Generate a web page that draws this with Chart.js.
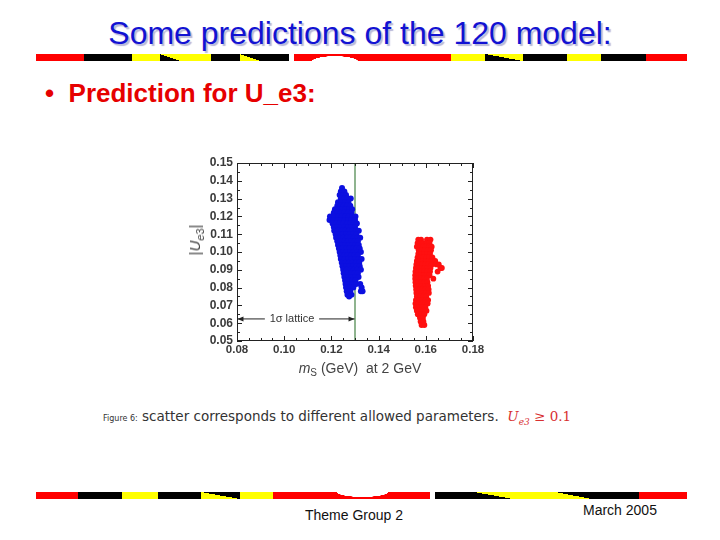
<!DOCTYPE html>
<html><head><meta charset="utf-8">
<script src="https://cdn.jsdelivr.net/npm/chart.js@4.4.1/dist/chart.umd.min.js"></script>
<style>
html,body{margin:0;padding:0;background:#fff;}
#page{position:relative;width:720px;height:540px;overflow:hidden;font-family:Arial,"Liberation Sans",sans-serif;}
.abs{position:absolute;}
.seg{position:absolute;height:7px;}
#title{left:0;width:720px;top:15px;text-align:center;font-size:32px;color:#1212d2;text-shadow:2px 2px 1px #b8b8d8;white-space:nowrap;}
#bullet{left:45px;top:78px;font-size:26px;font-weight:bold;color:#e60000;white-space:nowrap;}
#chartbox{left:160px;top:150px;width:330px;height:240px;}
#ytitle{left:196px;top:240px;font-size:15px;color:#444;transform:translate(-50%,-50%) rotate(-90deg);white-space:nowrap;}
#xtitle{left:360px;top:369px;font-size:14px;color:#444;transform:translate(-50%,-50%);white-space:nowrap;}
#caption{left:103px;top:408px;font-size:13.5px;color:#333;white-space:nowrap;font-family:"DejaVu Sans","Open Sans",sans-serif;}
#foot1{left:305px;top:507px;font-size:14px;color:#111;}
#foot2{left:583px;top:502px;font-size:14px;color:#111;}
</style></head>
<body><div id="page">
<div id="title" class="abs">Some predictions of the 120 model:</div>
<div id="topbar"></div>
<div id="bullet" class="abs">•&nbsp; Prediction for U_e3:</div>
<div id="chartbox" class="abs"><canvas id="c" width="330" height="240"></canvas></div>
<div id="ytitle" class="abs">|<i>U</i><sub style="font-size:11px"><i>e</i>3</sub>|</div>
<div id="xtitle" class="abs"><i>m</i><sub style="font-size:10px">S</sub> (GeV)&nbsp; at 2 GeV</div>
<div id="caption" class="abs"><span style="font-size:8px">Figure 6:</span> scatter corresponds to different allowed parameters. &nbsp;<span style="color:#d83030;font-family:'DejaVu Serif','Liberation Serif',serif;font-style:italic">U<sub style="font-size:9px">e3</sub></span><span style="color:#d83030;font-family:'DejaVu Serif','Liberation Serif',serif"> ≥ 0.1</span></div>
<div id="botbar"></div>
<div id="foot1" class="abs">Theme Group 2</div>
<div id="foot2" class="abs">March 2005</div>
</div>
<script>
// ---- data ----
const xTicks = [0.08, 0.10, 0.12, 0.14, 0.16, 0.18];
const yTicks = [0.05, 0.06, 0.07, 0.08, 0.09, 0.10, 0.11, 0.12, 0.13, 0.14, 0.15];
const latticeX = 0.13;
const blueRows = [
 [0.136,[0.1245]],
 [0.134,[0.124,0.1255]],
 [0.132,[0.1235,0.125,0.1262]],
 [0.130,[0.124,0.1255,0.1268,0.1282]],
 [0.128,[0.1228,0.1242,0.1258,0.1272]],
 [0.126,[0.1225,0.1238,0.1252,0.1266,0.128]],
 [0.124,[0.1215,0.123,0.1245,0.126,0.1275,0.1288]],
 [0.122,[0.121,0.1225,0.124,0.1255,0.127,0.1285]],
 [0.120,[0.1194,0.1212,0.1228,0.1244,0.126,0.1274,0.1289,0.1302]],
 [0.118,[0.1192,0.121,0.1226,0.1241,0.1256,0.1271,0.1285,0.13]],
 [0.116,[0.1205,0.122,0.1235,0.125,0.1266,0.128,0.1295,0.1308]],
 [0.114,[0.121,0.1224,0.124,0.1255,0.127,0.1284,0.13]],
 [0.112,[0.1212,0.1228,0.1243,0.1258,0.1274,0.1289,0.1304,0.1316]],
 [0.110,[0.1218,0.1232,0.1247,0.1262,0.1278,0.1292,0.1306]],
 [0.108,[0.122,0.1236,0.1251,0.1266,0.128,0.1295,0.131,0.1322]],
 [0.106,[0.1225,0.124,0.1255,0.127,0.1284,0.1298,0.1312]],
 [0.104,[0.1228,0.1243,0.1258,0.1273,0.1288,0.1302,0.1316]],
 [0.102,[0.1232,0.1247,0.1262,0.1277,0.1292,0.1306,0.132]],
 [0.100,[0.1235,0.125,0.1265,0.128,0.1295,0.131,0.1325]],
 [0.098,[0.1238,0.1253,0.1268,0.1283,0.1298,0.1312]],
 [0.096,[0.124,0.1256,0.1271,0.1286,0.13,0.1315,0.1328]],
 [0.094,[0.1244,0.1259,0.1274,0.1289,0.1304,0.1318]],
 [0.092,[0.1247,0.1262,0.1277,0.1292,0.1306,0.132]],
 [0.090,[0.125,0.1265,0.128,0.1295,0.131,0.1325]],
 [0.088,[0.1252,0.1268,0.1283,0.1298,0.1312]],
 [0.086,[0.1255,0.127,0.1285,0.13,0.1315]],
 [0.084,[0.1258,0.1273,0.1288,0.1302]],
 [0.082,[0.126,0.1275,0.129,0.1305,0.1322]],
 [0.080,[0.1262,0.1278,0.1293,0.1328]],
 [0.078,[0.1265,0.128,0.1325,0.1332]],
 [0.076,[0.1268,0.1285]],
 [0.075,[0.1275]]
];
const redRows = [
 [0.107,[0.1568,0.158,0.1605,0.162]],
 [0.105,[0.1565,0.1578,0.159,0.1603,0.1616]],
 [0.103,[0.1562,0.1575,0.1588,0.16,0.1612,0.1625]],
 [0.101,[0.157,0.1583,0.1596,0.1608,0.1622]],
 [0.099,[0.1568,0.158,0.1593,0.1605,0.1618]],
 [0.097,[0.1565,0.1578,0.159,0.1603,0.1615,0.1628]],
 [0.095,[0.1562,0.1575,0.1588,0.16,0.1612,0.1625,0.164]],
 [0.093,[0.156,0.1572,0.1585,0.1598,0.161,0.1625,0.1645,0.1655]],
 [0.091,[0.1558,0.157,0.1583,0.1595,0.1608,0.162,0.1662,0.1668]],
 [0.089,[0.1556,0.1568,0.158,0.1593,0.1605,0.1618,0.165]],
 [0.087,[0.1555,0.1567,0.158,0.1592,0.1604,0.1616]],
 [0.085,[0.1555,0.1567,0.158,0.1592,0.1605,0.1632]],
 [0.083,[0.1556,0.1568,0.1581,0.1594,0.1607]],
 [0.081,[0.1557,0.157,0.1583,0.1596,0.161]],
 [0.079,[0.1559,0.1572,0.1585,0.1598,0.1612]],
 [0.077,[0.156,0.1573,0.1586,0.16,0.1613]],
 [0.075,[0.1562,0.1575,0.1588,0.1602]],
 [0.073,[0.1558,0.1572,0.1585,0.1598,0.161]],
 [0.071,[0.1556,0.157,0.1583,0.1596,0.1608]],
 [0.069,[0.1558,0.1572,0.1585,0.1598]],
 [0.067,[0.1562,0.1576,0.159,0.1603]],
 [0.065,[0.1566,0.158,0.1594]],
 [0.063,[0.1575,0.1588]],
 [0.061,[0.1578,0.159]],
 [0.059,[0.1582,0.1594]]
];
const toPoints = rows => rows.flatMap(([y, xs]) => xs.map(x => ({x, y})));

// ---- decorative bars ----
const R='#ff0000',K='#000000',Y='#ffff00';
function bar(id, top, segs){
  const host=document.getElementById(id);
  segs.forEach(s=>{
    const d=document.createElement('div');
    d.className='seg';
    d.style.left=s[0]+'px'; d.style.width=(s[1]-s[0])+'px'; d.style.top=top+'px';
    d.style.background=s[2];
    host.appendChild(d);
  });
}
bar('topbar',54,[
 [36,84,R],[84,132,K],[132,160,Y],
 [160,180,'linear-gradient(to bottom left,'+Y+' 50%,'+K+' 50%)'],
 [180,211,Y],[211,240,K],
 [240,260,'linear-gradient(to bottom left,'+K+' 50%,'+Y+' 50%)'],
 [260,289,K],
 [294,360,'radial-gradient(ellipse 24px 6px at 62% 115%, #fff 97%, '+R+' 100%)'],
 [360,451,R],[451,485,Y],
 [485,523,'linear-gradient(to bottom left,'+Y+' 50%,'+K+' 50%)'],
 [523,567,K],[567,601,Y],[601,646,K],[646,687,R]
]);
bar('botbar',492,[
 [36,78,R],[78,122,K],[122,158,Y],[158,201,K],
 [201,240,'linear-gradient(to top right,'+Y+' 50%,'+K+' 50%)'],
 [240,273,Y],
 [273,430,'radial-gradient(ellipse 26px 5px at 57% 0%, #fff 97%, '+R+' 100%)'],
 [435,474,K],
 [474,513,'linear-gradient(to top right,'+K+' 50%,'+Y+' 50%)'],
 [513,555,Y],
 [555,592,'linear-gradient(to top right,'+Y+' 50%,'+K+' 50%)'],
 [592,639,K],[639,687,R]
]);

// ---- chart ----
const framePlugin = {
  id:'frame',
  afterDatasetsDraw(chart){
    const {ctx, chartArea:a, scales:{x, y}} = chart;
    ctx.save();
    ctx.strokeStyle='#222'; ctx.lineWidth=1;
    ctx.strokeRect(a.left+0.5, a.top+0.5, a.right-a.left-1, a.bottom-a.top-1);
    ctx.beginPath();
    for(let i=0;i<=20;i++){
      const v=0.08+i*0.005;
      const p=Math.round(x.getPixelForValue(v))+0.5;
      const L = (i%4===0)?5:3;
      ctx.moveTo(p,a.bottom); ctx.lineTo(p,a.bottom-L);
      ctx.moveTo(p,a.top); ctx.lineTo(p,a.top+L);
    }
    for(let i=0;i<=20;i++){
      const v=0.05+i*0.005;
      const p=Math.round(y.getPixelForValue(v))+0.5;
      const L = (i%2===0)?5:3;
      ctx.moveTo(a.left,p); ctx.lineTo(a.left+L,p);
      ctx.moveTo(a.right,p); ctx.lineTo(a.right-L,p);
    }
    ctx.stroke();
    // 1 sigma lattice annotation
    const yy = y.getPixelForValue(0.0624);
    const x0 = x.getPixelForValue(0.0802), x1 = x.getPixelForValue(0.0918);
    const x2 = x.getPixelForValue(0.1148), x3 = x.getPixelForValue(0.1298);
    ctx.strokeStyle='#222'; ctx.fillStyle='#222'; ctx.lineWidth=1;
    ctx.beginPath();
    ctx.moveTo(x0,yy); ctx.lineTo(x1,yy);
    ctx.moveTo(x2,yy); ctx.lineTo(x3,yy);
    ctx.stroke();
    ctx.beginPath();
    ctx.moveTo(x0,yy); ctx.lineTo(x0+6,yy-2.5); ctx.lineTo(x0+6,yy+2.5); ctx.closePath();
    ctx.moveTo(x3,yy); ctx.lineTo(x3-6,yy-2.5); ctx.lineTo(x3-6,yy+2.5); ctx.closePath();
    ctx.fill();
    ctx.font='11px Arial, "Liberation Sans", sans-serif';
    ctx.fillStyle='#333'; ctx.textAlign='center'; ctx.textBaseline='middle';
    ctx.fillText('1σ lattice', x.getPixelForValue(0.1033), yy);
    ctx.restore();
  }
};

new Chart(document.getElementById('c'), {
  type:'scatter',
  data:{datasets:[
    {type:'line', data:[{x:latticeX,y:0.05},{x:latticeX,y:0.15}], borderColor:'#8fb48f', borderWidth:2, pointRadius:0, order:3},
    {data:toPoints(blueRows), backgroundColor:'#0c10e0', borderWidth:0, pointRadius:3, order:2},
    {data:toPoints(redRows), backgroundColor:'#ff1010', borderWidth:0, pointRadius:2.9, order:1}
  ]},
  options:{
    responsive:false, animation:false, events:[],
    layout:{padding:{top:13,right:17,left:0,bottom:0}},
    plugins:{legend:{display:false}, tooltip:{enabled:false}},
    scales:{
      x:{type:'linear', min:0.08, max:0.18,
         afterFit(s){s.height=49;},
         afterBuildTicks(s){s.ticks = xTicks.map(v=>({value:v}));},
         grid:{display:false, drawTicks:false, tickLength:0}, border:{display:false},
         ticks:{padding:2, color:'#3a3a3a', font:{size:11.5, weight:'bold', family:'Arial'}, callback:v=>v.toFixed(2), maxRotation:0, autoSkip:false}},
      y:{type:'linear', min:0.05, max:0.15,
         afterFit(s){s.width=77;},
         afterBuildTicks(s){s.ticks = yTicks.map(v=>({value:v}));},
         grid:{display:false, drawTicks:false, tickLength:0}, border:{display:false},
         ticks:{padding:4, color:'#3a3a3a', font:{size:12, weight:'bold', family:'Arial'}, callback:v=>v.toFixed(2), autoSkip:false}}
    }
  },
  plugins:[framePlugin]
});
</script>
</body></html>
